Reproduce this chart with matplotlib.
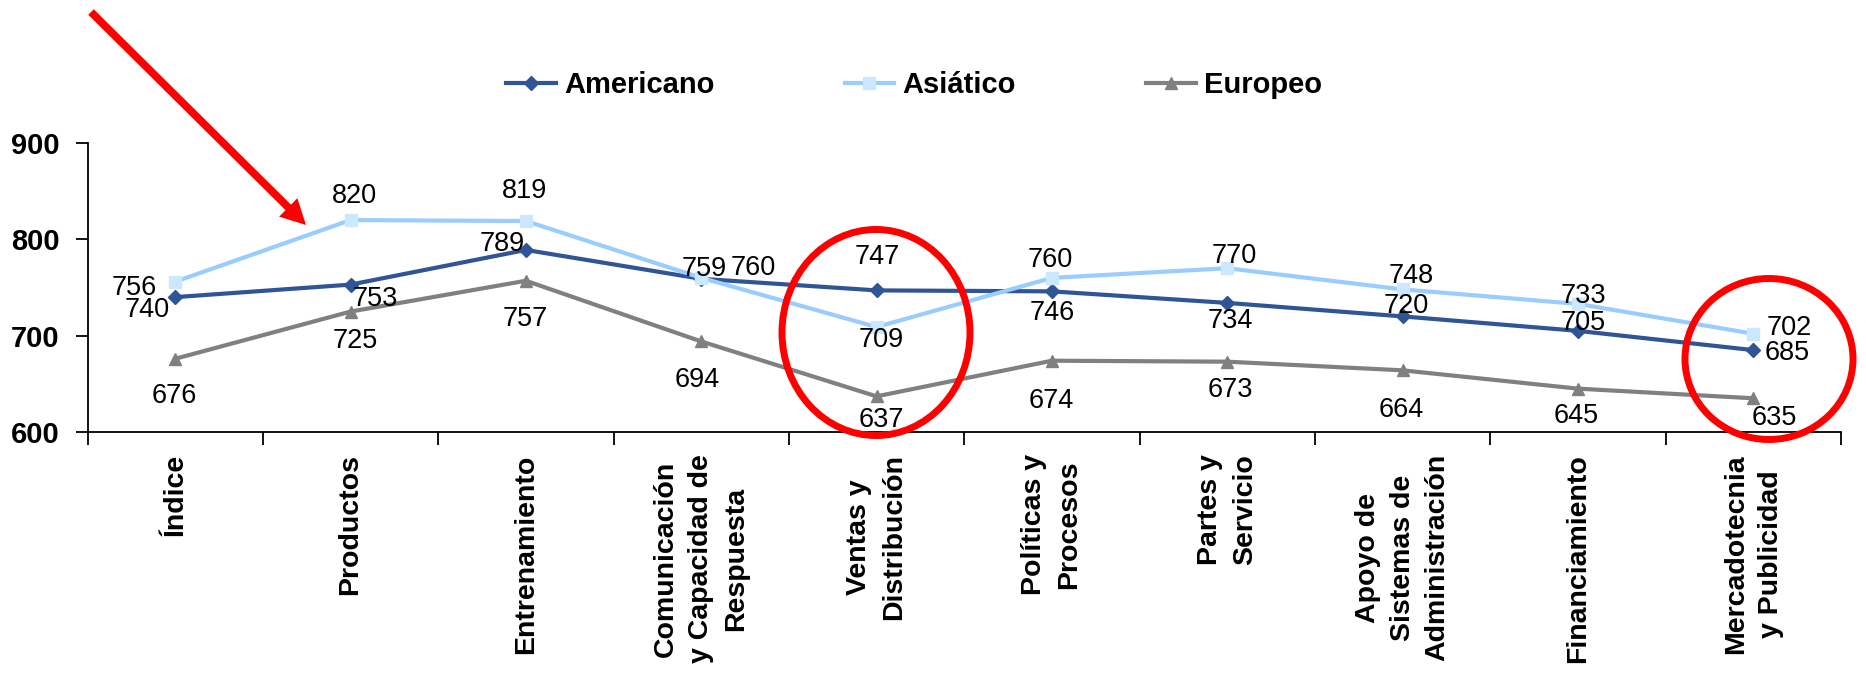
import matplotlib
matplotlib.use("Agg")
import matplotlib.pyplot as plt
from matplotlib.patches import Ellipse, FancyArrow
from matplotlib.ticker import FixedLocator, NullFormatter, FixedFormatter

plt.rcParams['font.family'] = ['Liberation Sans', 'DejaVu Sans']

# ---------------- data ----------------
categories = ["Índice", "Productos", "Entrenamiento",
              "Comunicación\ny Capacidad de\nRespuesta", "Ventas y\nDistribución",
              "Políticas y\nProcesos", "Partes y\nServicio",
              "Apoyo de\nSistemas de\nAdministración", "Financiamiento",
              "Mercadotecnia\ny Publicidad"]
americano = [740, 753, 789, 759, 747, 746, 734, 720, 705, 685]
asiatico = [756, 820, 819, 760, 709, 760, 770, 748, 733, 702]
europeo = [676, 725, 757, 694, 637, 674, 673, 664, 645, 635]
series_names = ["Americano", "Asiático", "Europeo"]
y_ticks = [600, 700, 800, 900]

# ---------------- style ----------------
c_am = "#2F5597"
c_as_line = "#99CCFF"
c_as_mark = "#CCE8FF"
c_eu = "#808080"

# label offsets in pixels (dx right, dy up)
off_am = [(-28, -10), (25, -11), (-24, 9), (3, 13), (1, 36), (0, -19), (3, -15), (4, 13), (5, 11), (34, 0)]
off_as = [(-41, -3), (4, 27), (-1, 33), (52, 13), (5, -10), (-2, 21), (7, 15), (9, 16), (5, 11), (36, 9)]
off_eu = [(-1, -34), (5, -26), (-1, -35), (-4, -36), (5, -21), (-1, -37), (3, -25), (-1, -37), (-2, -24), (21, -17)]

W, H = 1866, 674
fig = plt.figure(figsize=(W / 100, H / 100), dpi=100)
ax = fig.add_axes([87.5 / W, 1 - 432 / H, (1841 - 87.5) / W, (432 - 143) / H])

x = list(range(len(categories)))
l1, = ax.plot(x, americano, color=c_am, lw=3, marker="D", ms=7.5, mfc=c_am, mec=c_am, zorder=3)
l2, = ax.plot(x, asiatico, color=c_as_line, lw=3, marker="s", ms=8, mfc=c_as_mark, mec=c_as_mark, zorder=4)
l3, = ax.plot(x, europeo, color=c_eu, lw=3, marker="^", ms=9, mfc=c_eu, mec=c_eu, zorder=3)

for vals, offs in [(americano, off_am), (asiatico, off_as), (europeo, off_eu)]:
    for xi, v, (dx, dy) in zip(x, vals, offs):
        ax.annotate(str(v), (xi, v), xytext=(dx, dy), textcoords="offset pixels",
                    ha="center", va="center_baseline", fontsize=19.5, color="black", zorder=6)

ax.set_xlim(-0.5, len(categories) - 0.5)
ax.set_ylim(600, 900)
ax.set_yticks(y_ticks)
ax.set_yticklabels([str(t) for t in y_ticks], fontsize=21, fontweight="bold")
ax.tick_params(axis="y", length=9, width=1.3, pad=11, direction="out")

# boundary ticks (major) and category labels (minor)
ax.xaxis.set_major_locator(FixedLocator([i - 0.5 for i in range(len(categories) + 1)]))
ax.xaxis.set_major_formatter(NullFormatter())
ax.xaxis.set_minor_locator(FixedLocator(x))
ax.xaxis.set_minor_formatter(FixedFormatter(categories))
ax.tick_params(axis="x", which="major", length=9, width=1.3, direction="out")
ax.tick_params(axis="x", which="minor", length=0, pad=16)
for lab in ax.xaxis.get_minorticklabels():
    lab.set_rotation(90)
    lab.set_fontsize(20.5)
    lab.set_fontweight("bold")
    lab.set_ha("center")
    lab.set_va("top")
    lab.set_multialignment("center")
    lab.set_linespacing(1.45)

for s in ["top", "right"]:
    ax.spines[s].set_visible(False)
for s in ["left", "bottom"]:
    ax.spines[s].set_linewidth(1.3)
    ax.spines[s].set_color("black")

leg = fig.legend([l1, l2, l3], series_names, loc="center left",
                 bbox_to_anchor=(506 / W, 1 - 85 / H), ncol=3, frameon=False,
                 borderpad=0, borderaxespad=0, handlelength=1.71, handletextpad=0.28,
                 columnspacing=4.46, prop={"weight": "bold", "size": 21})

# overlay annotations in pixel space
ov = fig.add_axes([0, 0, 1, 1])
ov.set_xlim(0, W)
ov.set_ylim(H, 0)
ov.axis("off")
ov.patch.set_alpha(0)
ov.add_patch(FancyArrow(91, 12, 306 - 91, 225 - 12, width=7.8, head_width=26, head_length=25,
                        length_includes_head=True, color="#FF0000", lw=0))
ov.add_patch(Ellipse((876, 332.5), 188, 206, fill=False, edgecolor="#FF0000", lw=5))
ov.add_patch(Ellipse((1769, 359), 168, 161, fill=False, edgecolor="#FF0000", lw=5))

fig.savefig("out.png", dpi=100)
